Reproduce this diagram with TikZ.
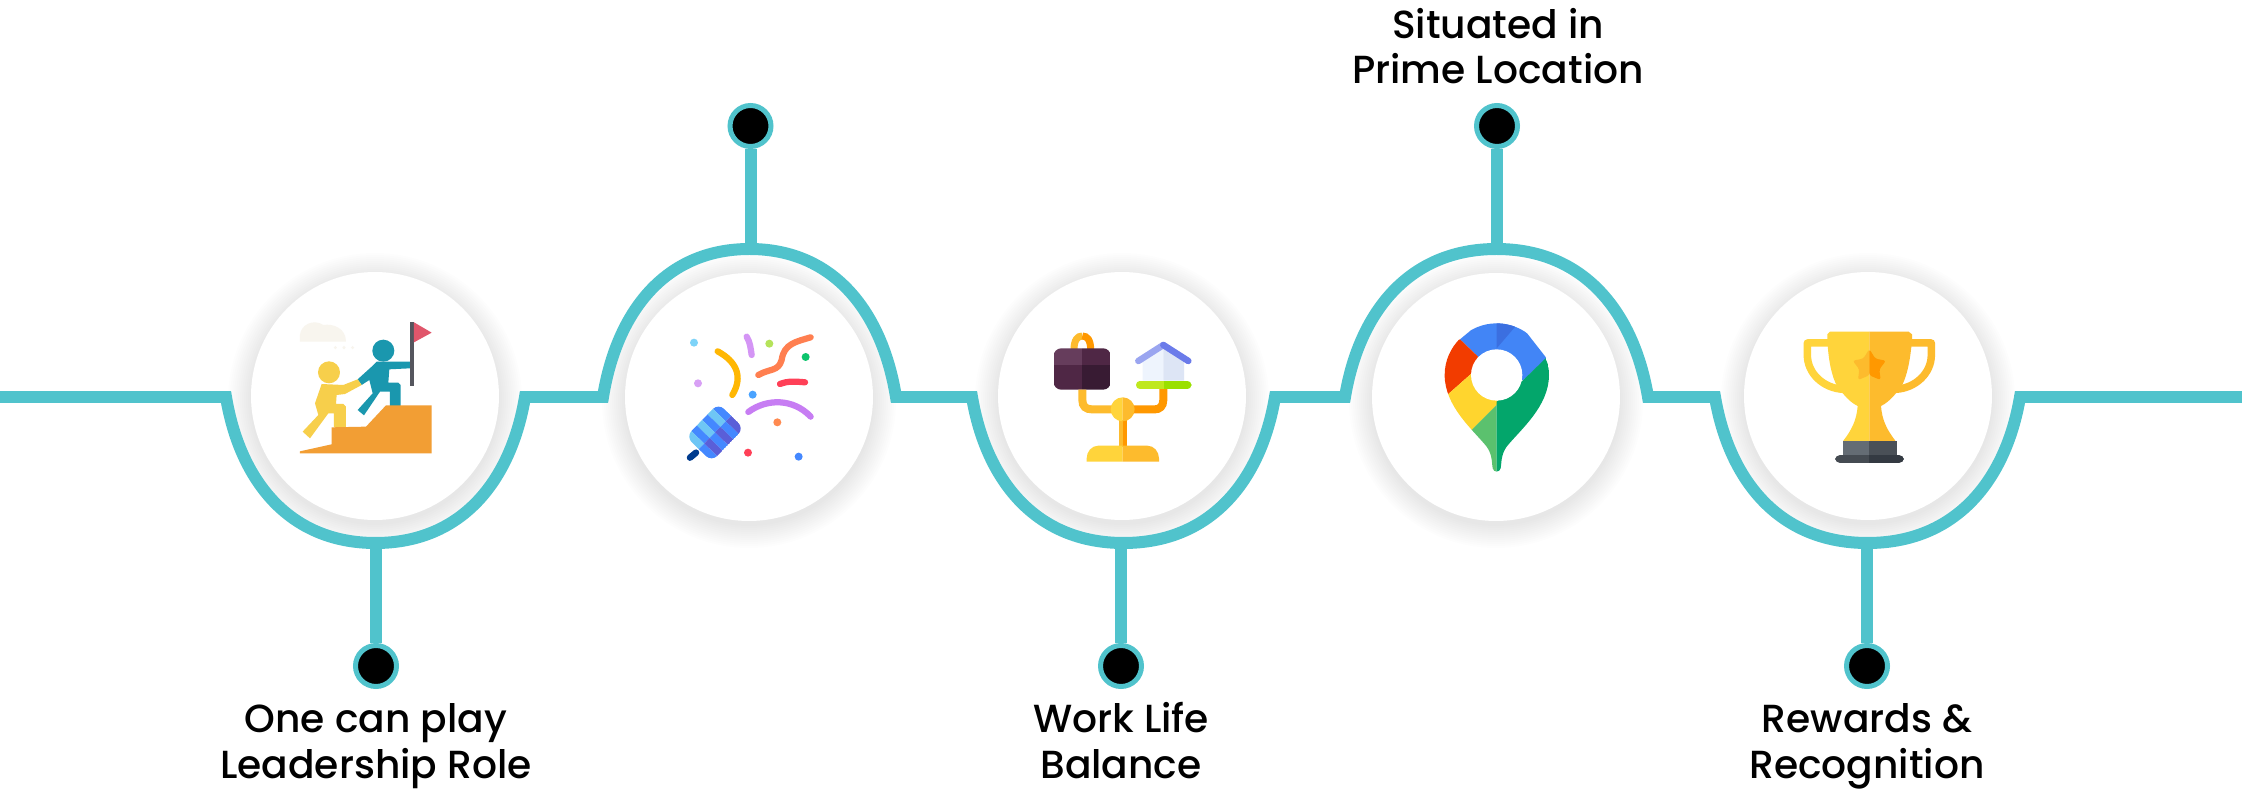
\documentclass[tikz,border=0pt]{standalone}
\usepackage{fontspec}
\setmainfont{Poppins}[UprightFont=* Medium]
\definecolor{teal1}{HTML}{50C3CC}
\tikzset{
  spine/.style={draw=teal1,line width=.24cm,miter limit=10},
  stem/.style={draw=teal1,line width=.24cm},
  dotnode/.style={circle,fill=black,draw=teal1,line width=.1cm,minimum size=.82cm,inner sep=0},
  disc/.style={circle,fill=white,minimum size=4.96cm,inner sep=0},
  lab/.style={align=center,font=\fontsize{22.3}{26}\selectfont,text=black,inner sep=0,anchor=base},
  crop/.style 2 args={shift={(#1,#2)},x=0.0066667cm,y=-0.0066667cm},
  conf/.style={line cap=round,line width=.125cm},
}
\newcommand\softshadow[2]{\foreach \r in {125,127,...,147}{\fill[black,opacity=.006] ({#1},{#2+4}) circle[radius=\r];}}
\newcommand\hump[3]{.. controls ({#1+.093*#2},{397+.57*#3}) and ({#1+.42*#2},{397+#3}) .. ({#1+#2},{397+#3}) .. controls ({#1+1.58*#2},{397+#3}) and ({#1+1.907*#2},{397+.57*#3}) .. ({#1+2*#2},397)}
\begin{document}
\begin{tikzpicture}[x=0.02cm,y=-0.02cm]
\useasboundingbox (0,0) rectangle (2242,790);
\softshadow{375}{396}\softshadow{749}{397}\softshadow{1122}{396}\softshadow{1496}{397}\softshadow{1868}{396}
% spine
\draw[spine] (0,397) -- (226,397) \hump{226}{149.5}{146}
  -- (603,397) \hump{603}{146.5}{-148}
  -- (972,397) \hump{972}{151.5}{146}
  -- (1345,397) \hump{1345}{151.5}{-148}
  -- (1715,397) \hump{1715}{152.5}{146}
  -- (2242,397);
\coordinate (s1) at (376,543);
\coordinate (s2) at (750.5,249);
\coordinate (s3) at (1121,543);
\coordinate (s4) at (1497,249);
\coordinate (s5) at (1867,543);
\node[dotnode] (d1) at (376,666) {};
\node[dotnode] (d2) at (750.5,126) {};
\node[dotnode] (d3) at (1121,666) {};
\node[dotnode] (d4) at (1497,126) {};
\node[dotnode] (d5) at (1867,666) {};
\foreach \i in {1,...,5}{\draw[stem] (d\i) -- (s\i);}
\node[disc] (c1) at (375,396) {};
\node[disc] (c2) at (749,397) {};
\node[disc] (c3) at (1122,396) {};
\node[disc] (c4) at (1496,397) {};
\node[disc] (c5) at (1868,396) {};
% labels
\node[lab] (t1) at (376,778) {One can play\\Leadership Role};
\node[lab] (t3) at (1121,778) {Work Life\\Balance};
\node[lab] (t4) at (1498,84) {Situated in\\Prime Location};
\node[lab] (t5) at (1867,778) {Rewards \&\\Recognition};
% icon 1
\begin{scope}[crop={180}{260}]
\fill[color={rgb,255:red,248;green,245;blue,238}] (360,245) -- (360,225) .. controls (362,195) and (400,175) .. (430,195) .. controls (460,190) and (498,205) .. (498,245) -- cycle;
\foreach \x in {466,492,518}{\fill[color={rgb,255:red,248;green,245;blue,238}] (\x,263) circle[radius=5];}
\fill[color={rgb,255:red,85;green,86;blue,94}] (690,185) rectangle (702,377);
\fill[color={rgb,255:red,224;green,86;blue,107}] (702,187) -- (755,218) -- (702,247) -- cycle;
\fill[color={rgb,255:red,26;green,151;blue,174}] (610,272) circle[radius=33];
\fill[color={rgb,255:red,26;green,151;blue,174}] (590,305) -- (690,305) -- (690,325) -- (628,328) -- (625,368) -- (655,368) -- (662,375) -- (662,438) -- (630,438) -- (630,395) -- (600,395) -- (552,466) -- (533,450) -- (578,400) -- (568,360) -- (545,375) -- (533,358) -- (575,320) -- cycle;
\fill[color={rgb,255:red,247;green,207;blue,75}] (447,337) circle[radius=33];
\fill[color={rgb,255:red,247;green,207;blue,75}] (425,372) -- (490,375) -- (533,358) -- (545,375) -- (495,402) -- (470,405) -- (468,432) -- (490,432) -- (498,440) -- (498,502) -- (462,502) -- (462,460) -- (445,460) -- (390,535) -- (368,515) -- (415,465) -- (405,430) -- cycle;
\fill[color={rgb,255:red,242;green,158;blue,52}] (360,580) -- (360,574) -- (455,553) -- (455,502) -- (558,500) -- (618,436) -- (755,436) -- (755,580) -- cycle;
\end{scope}
% icon 2
\begin{scope}[crop={580}{90}]
\draw[line cap=round,line width=.13cm,color={rgb,255:red,0;green,59;blue,142}] (330,1103) -- (348,1088);
\begin{scope}
\clip[rounded corners=1.6mm] (415,940) -- (492,1015) -- (395,1115) -- (318,1040) -- cycle;
\foreach \i/\j/\c in {0/0/4488FF,1/0/6EC6F5,2/0/4488FF,3/0/6EC6F5,4/0/4488FF,5/0/6EC6F5,0/1/5A5FD8,1/1/4488FF,2/1/5A5FD8,3/1/4488FF,4/1/5A5FD8,5/1/4488FF}{
  \definecolor{tmpc}{HTML}{\c}
  \fill[tmpc] ({415+77*\j/2-97*\i/6},{940+75*\j/2+100*\i/6}) -- ({415+77*(\j+1)/2-97*\i/6},{940+75*(\j+1)/2+100*\i/6}) -- ({415+77*(\j+1)/2-97*(\i+1)/6},{940+75*(\j+1)/2+100*(\i+1)/6}) -- ({415+77*\j/2-97*(\i+1)/6},{940+75*\j/2+100*(\i+1)/6}) -- cycle;
}
\end{scope}
\draw[conf,color={rgb,255:red,212;green,149;blue,245}] (500,740) .. controls (510,755) and (512,775) .. (515,795);
\draw[conf,color={rgb,255:red,255;green,183;blue,3}] (413,784) .. controls (470,815) and (490,860) .. (457,915);
\draw[conf,color={rgb,255:red,255;green,127;blue,80}] (535,855) .. controls (570,835) and (595,845) .. (605,810) .. controls (612,760) and (650,755) .. (692,742);
\draw[conf,color={rgb,255:red,255;green,64;blue,87}] (600,882) .. controls (625,872) and (650,875) .. (675,877);
\draw[conf,color={rgb,255:red,199;green,125;blue,243}] (505,966) .. controls (560,925) and (640,925) .. (692,980);
\foreach \x/\y/\c in {342/758/7DD3F8,568/761/B5E35A,677/801/0CC46C,354/880/D8A0F5,518/914/4AA3FF,592/997/FF8A50,504/1088/FF4057,656/1100/4488FF}{
  \definecolor{tmpc}{HTML}{\c}
  \fill[tmpc] (\x,\y) circle[radius=12];
}
\end{scope}
% icon 3
\begin{scope}[crop={960}{280}]
\definecolor{ya}{HTML}{FDBB2D}\definecolor{yb}{HTML}{FF9800}\definecolor{yc}{HTML}{FFD43B}
\draw[line width=.14cm,ya] (342,210) .. controls (342,180) and (352,168) .. (367,168);
\draw[line width=.14cm,yb] (367,168) .. controls (382,168) and (392,180) .. (392,210);
\begin{scope}
\clip[rounded corners=1.5mm] (281,205) rectangle (452,329);
\fill[color={rgb,255:red,102;green,61;blue,92}] (281,205) rectangle (365,255);
\fill[color={rgb,255:red,79;green,39;blue,69}] (365,205) rectangle (452,255);
\fill[color={rgb,255:red,79;green,39;blue,69}] (281,255) rectangle (365,329);
\fill[color={rgb,255:red,56;green,27;blue,51}] (365,255) rectangle (452,329);
\end{scope}
\draw[line width=.16cm,ya] (367,329) -- (367,360) .. controls (367,380) and (378,388) .. (395,388) -- (470,388);
\draw[line width=.16cm,yb] (610,325) -- (610,360) .. controls (610,380) and (598,388) .. (585,388) -- (510,388);
\fill[ya] (476,420) rectangle (488,500);
\fill[yb] (488,420) rectangle (500,500);
\fill[yc] (488,352) arc[start angle=270,end angle=90,radius=36] -- cycle;
\fill[ya] (488,352) arc[start angle=-90,end angle=90,radius=36] -- cycle;
\fill[yc] (488,497) -- (415,497) .. controls (395,497) and (380,515) .. (380,535) -- (380,545) -- (488,545) -- cycle;
\fill[ya] (488,497) -- (562,497) .. controls (582,497) and (597,515) .. (597,535) -- (597,545) -- (488,545) -- cycle;
\fill[color={rgb,255:red,238;green,244;blue,253}] (548,245) -- (610,205) -- (610,302) -- (548,302) -- cycle;
\fill[color={rgb,255:red,221;green,229;blue,245}] (610,205) -- (672,245) -- (672,302) -- (610,302) -- cycle;
\draw[line width=.13cm,line cap=round,color={rgb,255:red,154;green,165;blue,240}] (535,243) -- (610,195);
\draw[line width=.13cm,line cap=round,color={rgb,255:red,107;green,123;blue,234}] (610,195) -- (685,243);
\begin{scope}
\clip[rounded corners=1mm] (527,302) rectangle (695,328);
\fill[color={rgb,255:red,191;green,232;blue,30}] (527,302) rectangle (611,328);
\fill[color={rgb,255:red,154;green,224;blue,0}] (611,302) rectangle (695,328);
\end{scope}
\end{scope}
% icon 4
\begin{scope}[crop={1340}{280}]
\begin{scope}
\clip (470,130) .. controls (385,130) and (314,200) .. (314,285) .. controls (314,380) and (400,450) .. (440,500) .. controls (458,525) and (455,550) .. (458,565) .. controls (461,578) and (479,578) .. (482,565) .. controls (485,550) and (482,525) .. (500,500) .. controls (540,450) and (627,380) .. (627,285) .. controls (627,200) and (555,130) .. (470,130) -- cycle;
\fill[color={rgb,255:red,66;green,133;blue,246}] (414,230) -- (360,178) -- (430,120) -- (530,120) -- (620,235) -- (550,300) -- (470,285) -- cycle;
\fill[color={rgb,255:red,59;green,111;blue,224}] (470,125) -- (530,135) -- (470,205) -- cycle;
\fill[color={rgb,255:red,242;green,60;blue,0}] (360,178) -- (414,230) -- (395,280) -- (325,342) -- (300,300) -- (310,200) -- cycle;
\fill[color={rgb,255:red,255;green,213;blue,46}] (325,342) -- (395,280) -- (420,340) -- (480,365) -- (392,453) -- (340,420) -- (310,350) -- cycle;
\fill[color={rgb,255:red,91;green,193;blue,110}] (392,453) -- (470,375) -- (470,590) -- (420,590) -- cycle;
\fill[color={rgb,255:red,3;green,166;blue,107}] (470,365) -- (550,300) -- (617,235) -- (640,300) -- (600,450) -- (500,590) -- (470,590) -- cycle;
\end{scope}
\fill[white] (470,285) circle[radius=77];
\end{scope}
% icon 5
\begin{scope}[crop={1720}{280}]
\definecolor{ya}{HTML}{FDBB2D}\definecolor{yb}{HTML}{FF9800}\definecolor{yc}{HTML}{FFD43B}
\draw[line width=.15cm,line join=round,yc] (330,189) -- (262,189) -- (262,225) .. controls (262,280) and (310,325) .. (370,328);
\draw[line width=.15cm,line join=round,ya] (566,189) -- (634,189) -- (634,225) .. controls (634,280) and (586,325) .. (526,328);
\fill[yc] (448,155) -- (330,155) -- (322,163) -- (322,180) .. controls (325,240) and (335,290) .. (352,320) -- (370,342) .. controls (385,360) and (400,372) .. (413,378) .. controls (410,420) and (395,450) .. (370,482) -- (370,486) -- (448,486) -- cycle;
\fill[ya] (448,155) -- (566,155) -- (576,163) -- (576,180) .. controls (571,240) and (561,290) .. (544,320) -- (526,342) .. controls (511,360) and (496,372) .. (483,378) .. controls (486,420) and (501,450) .. (526,482) -- (526,486) -- (448,486) -- cycle;
\fill[ya,rounded corners=.5mm] (448,207) -- (430,236) -- (398,242) -- (418,268) -- (414,300) -- (448,286) -- cycle;
\fill[yb,rounded corners=.5mm] (448,207) -- (466,236) -- (498,242) -- (478,268) -- (482,300) -- (448,286) -- cycle;
\fill[color={rgb,255:red,100;green,108;blue,116}] (368,484) rectangle (448,525);
\fill[color={rgb,255:red,74;green,80;blue,87}] (448,484) rectangle (530,525);
\begin{scope}
\clip[rounded corners=1mm] (345,525) rectangle (552,549);
\fill[color={rgb,255:red,69;green,75;blue,82}] (345,525) rectangle (448,549);
\fill[color={rgb,255:red,52;green,58;blue,66}] (448,525) rectangle (552,549);
\end{scope}
\end{scope}
\end{tikzpicture}
\end{document}
